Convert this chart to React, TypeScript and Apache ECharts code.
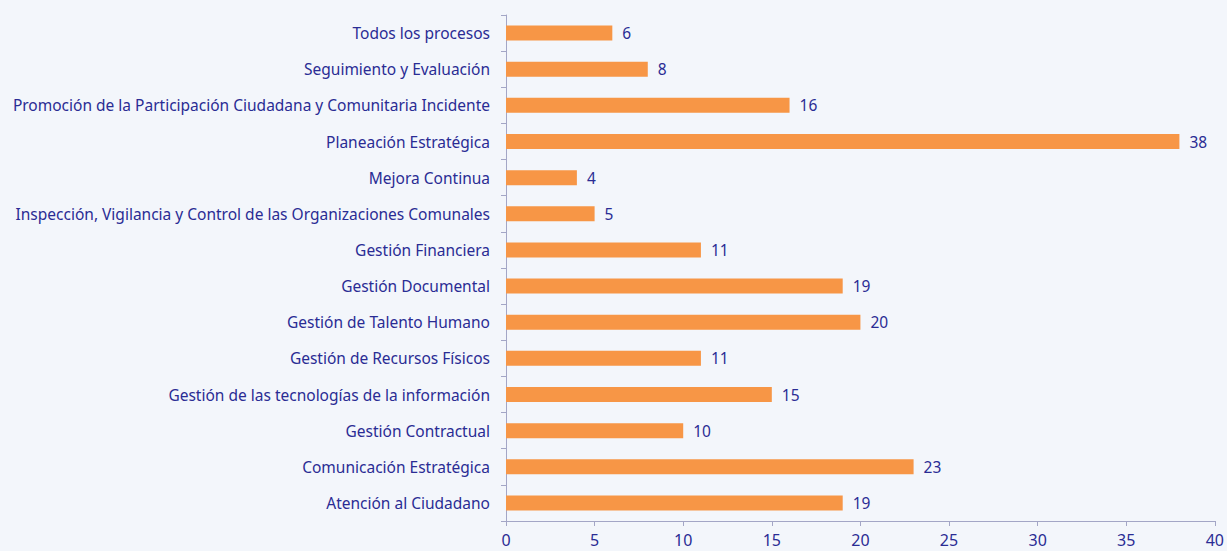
import React, { useEffect, useRef } from "react";
import * as echarts from "echarts";

const categories = [
  "Atención al Ciudadano",
  "Comunicación Estratégica",
  "Gestión Contractual",
  "Gestión de las tecnologías de la información",
  "Gestión de Recursos Físicos",
  "Gestión de Talento Humano",
  "Gestión Documental",
  "Gestión Financiera",
  "Inspección, Vigilancia y Control de las Organizaciones Comunales",
  "Mejora Continua",
  "Planeación Estratégica",
  "Promoción de la Participación Ciudadana y Comunitaria Incidente",
  "Seguimiento y Evaluación",
  "Todos los procesos",
];
const values = [19, 23, 10, 15, 11, 20, 19, 11, 5, 4, 38, 16, 8, 6];
const xTicks = { min: 0, max: 40, interval: 5 };

const TEXT = "#2A2C94";
const AXIS = "#A3A6C6";
const FONT = "'Noto Sans', sans-serif";

export default function App() {
  const ref = useRef<HTMLDivElement>(null);
  useEffect(() => {
    document.body.style.margin = "0";
    const chart = echarts.init(ref.current!, undefined, { renderer: "svg" });
    chart.setOption({
      animation: false,
      backgroundColor: "#F3F6FB",
      textStyle: { fontFamily: FONT },
      grid: { left: 506, right: 11, top: 15, bottom: 30, containLabel: false },
      xAxis: {
        type: "value",
        min: xTicks.min,
        max: xTicks.max,
        interval: xTicks.interval,
        splitLine: { show: false },
        axisLine: { show: true, lineStyle: { color: AXIS, width: 1 } },
        axisTick: { show: true, length: 5, lineStyle: { color: AXIS } },
        axisLabel: {
          color: TEXT,
          fontSize: 16,
          margin: 11,
          fontFamily: FONT,
          lineHeight: 16,
        },
      },
      yAxis: {
        type: "category",
        data: categories,
        axisLine: { show: true, lineStyle: { color: AXIS, width: 1 } },
        axisTick: { show: true, length: 5, lineStyle: { color: AXIS } },
        axisLabel: { color: TEXT, fontSize: 15.5, margin: 16, fontFamily: FONT },
      },
      series: [
        {
          type: "bar",
          data: values,
          barWidth: 15,
          itemStyle: { color: "#F79646" },
          label: {
            show: true,
            position: "right",
            distance: 10,
            color: TEXT,
            fontSize: 15.5,
            fontFamily: FONT,
          },
        },
      ],
    });
    return () => chart.dispose();
  }, []);
  return (
    <div
      ref={ref}
      style={{ position: "absolute", left: 0, top: 0, width: 1227, height: 551 }}
    />
  );
}
